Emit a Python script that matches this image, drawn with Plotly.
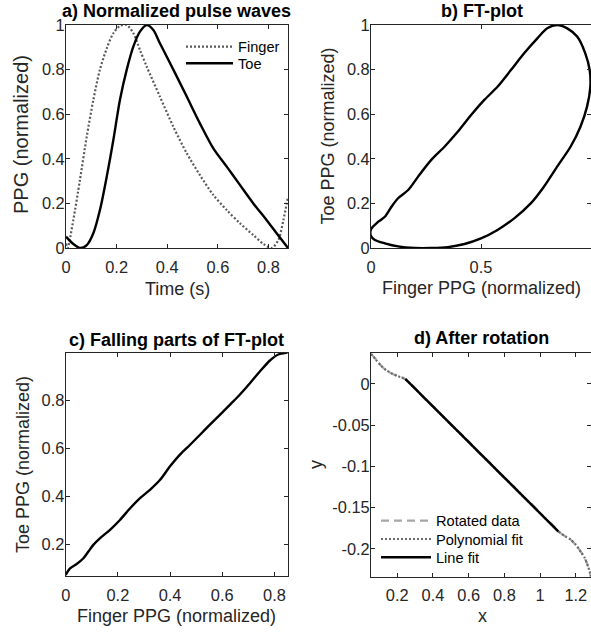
import plotly.graph_objects as go

W, H = 591, 633

# ---------------- data ----------------
# a) normalized pulse waves
finger_t = [0.0, 0.006, 0.029, 0.055, 0.082, 0.108, 0.134, 0.161, 0.187, 0.213, 0.240, 0.266,
            0.292, 0.319, 0.371, 0.424, 0.477, 0.529, 0.582, 0.635, 0.687, 0.740, 0.780,
            0.813, 0.839, 0.859, 0.877]
finger_y = [0.02, 0.0, 0.126, 0.305, 0.50, 0.664, 0.80, 0.895, 0.963, 0.996, 1.0, 0.963,
            0.888, 0.813, 0.679, 0.544, 0.425, 0.327, 0.238, 0.170, 0.111, 0.058, 0.018,
            0.0, 0.036, 0.126, 0.23]
toe_t = [0.0, 0.029, 0.055, 0.082, 0.108, 0.134, 0.161, 0.187, 0.213, 0.240, 0.266, 0.292,
         0.319, 0.345, 0.371, 0.424, 0.477, 0.529, 0.582, 0.635, 0.687, 0.740, 0.792,
         0.832, 0.877]
toe_y = [0.051, 0.018, 0.0, 0.013, 0.066, 0.17, 0.32, 0.484, 0.664, 0.80, 0.903, 0.97,
         1.0, 0.978, 0.918, 0.80, 0.679, 0.559, 0.447, 0.365, 0.283, 0.20, 0.126,
         0.066, 0.0]

# b) FT-plot (finger vs toe loop)
ft_finger = [0.0, 0.033, 0.063, 0.093, 0.123, 0.169, 0.214, 0.274, 0.334, 0.395, 0.455, 0.515,
             0.575, 0.636, 0.696, 0.756, 0.801, 0.846, 0.892, 0.937, 0.974, 0.994, 0.997,
             0.982, 0.952, 0.907, 0.846, 0.786, 0.726, 0.651, 0.575, 0.500, 0.425, 0.349,
             0.274, 0.199, 0.123, 0.063, 0.018, 0.0, 0.0]
ft_toe = [0.084, 0.118, 0.14, 0.185, 0.223, 0.26, 0.32, 0.395, 0.454, 0.522, 0.596, 0.664,
          0.723, 0.798, 0.873, 0.94, 0.985, 1.0, 0.985, 0.948, 0.873, 0.798, 0.723,
          0.634, 0.544, 0.454, 0.365, 0.275, 0.20, 0.133, 0.081, 0.043, 0.018, 0.004,
          0.0, 0.0, 0.007, 0.021, 0.036, 0.054, 0.084]

# c) falling parts of FT-plot
fall_finger = [0.0, 0.0166, 0.042, 0.068, 0.087, 0.106, 0.132, 0.170, 0.208, 0.247, 0.285,
               0.323, 0.362, 0.400, 0.438, 0.477, 0.515, 0.553, 0.592, 0.630, 0.668, 0.707,
               0.745, 0.783, 0.815, 0.851]
fall_toe = [0.071, 0.099, 0.117, 0.141, 0.169, 0.197, 0.225, 0.260, 0.301, 0.350, 0.392,
            0.427, 0.469, 0.525, 0.574, 0.615, 0.657, 0.699, 0.741, 0.783, 0.825, 0.873,
            0.922, 0.967, 0.992, 1.0]

# d) after rotation
rot_x = [0.053, 0.08, 0.11, 0.14, 0.17, 0.20, 0.24, 0.30, 0.36, 0.42, 0.48, 0.54, 0.60, 0.66,
         0.72, 0.78, 0.84, 0.90, 0.96, 1.02, 1.08, 1.11, 1.14, 1.17, 1.20, 1.23, 1.25, 1.265,
         1.28, 1.285]
rot_y = [0.0364, 0.030, 0.022, 0.016, 0.0125, 0.0100, 0.0065, -0.0050, -0.0195, -0.0310,
         -0.0452, -0.0570, -0.0695, -0.0840, -0.0955, -0.1098, -0.1213, -0.1355, -0.1470,
         -0.1612, -0.1730, -0.1800, -0.1845, -0.1885, -0.1950, -0.2040, -0.2110, -0.2190,
         -0.2290, -0.2340]
poly_x = [0.053, 0.08, 0.11, 0.14, 0.17, 0.20, 0.243, 0.30, 0.40, 0.50, 0.60, 0.70, 0.80,
          0.90, 1.00, 1.103, 1.14, 1.17, 1.20, 1.23, 1.25, 1.265, 1.28, 1.285]
poly_y = [0.0366, 0.0295, 0.022, 0.0165, 0.0128, 0.0098, 0.0062, -0.0058, -0.0273, -0.0489,
          -0.0705, -0.0920, -0.1135, -0.1350, -0.1565, -0.1788, -0.1845, -0.1885, -0.1950,
          -0.2040, -0.2110, -0.2190, -0.2290, -0.2336]
line_x = [0.245, 1.103]
line_y = [0.0063, -0.1790]

# tick values
a_x_ticks = [0, 0.2, 0.4, 0.6, 0.8]
a_y_ticks = [0, 0.2, 0.4, 0.6, 0.8, 1]
b_x_ticks = [0, 0.5, 1]
c_y_ticks = [0.2, 0.4, 0.6, 0.8]
d_x_ticks = [0.2, 0.4, 0.6, 0.8, 1, 1.2]
d_y_ticks = [0, -0.05, -0.1, -0.15, -0.2]

# ---------------- styling ----------------
FONT = "Liberation Sans, Arial, sans-serif"
AX = "#262626"
TICK_SIZE = 16.4
LABEL_SIZE = 18
LEG_SIZE = 14.6


def px(x):
    return x / W


def py(y):
    return 1 - y / H


fig = go.Figure()

# a)
fig.add_trace(go.Scatter(x=finger_t, y=finger_y, mode="lines", name="Finger",
                         line=dict(color="#5a5a5a", width=2.2, dash="2px,2px", shape="spline",
                                   smoothing=0.8),
                         xaxis="x", yaxis="y", legend="legend"))
fig.add_trace(go.Scatter(x=toe_t, y=toe_y, mode="lines", name="Toe",
                         line=dict(color="#000000", width=2.4, shape="spline", smoothing=0.8),
                         xaxis="x", yaxis="y", legend="legend2"))
# b)
fig.add_trace(go.Scatter(x=ft_finger, y=ft_toe, mode="lines", showlegend=False,
                         line=dict(color="#000000", width=2.4, shape="spline", smoothing=0.8),
                         xaxis="x2", yaxis="y2"))
# c)
fig.add_trace(go.Scatter(x=fall_finger, y=fall_toe, mode="lines", showlegend=False,
                         line=dict(color="#000000", width=2.4, shape="spline", smoothing=0.8),
                         xaxis="x3", yaxis="y3"))
# d)
fig.add_trace(go.Scatter(x=rot_x, y=rot_y, mode="lines", name="Rotated data",
                         line=dict(color="#a6a6a6", width=2.2, dash="8px,5px", shape="spline",
                                   smoothing=0.6),
                         xaxis="x4", yaxis="y4", legend="legend3"))
fig.add_trace(go.Scatter(x=poly_x, y=poly_y, mode="lines", name="Polynomial fit",
                         line=dict(color="#6a6a6a", width=2.2, dash="2px,2px", shape="spline",
                                   smoothing=0.6),
                         xaxis="x4", yaxis="y4", legend="legend4"))
fig.add_trace(go.Scatter(x=line_x, y=line_y, mode="lines", name="Line fit",
                         line=dict(color="#000000", width=2.4),
                         xaxis="x4", yaxis="y4", legend="legend5"))


def axstyle(**kw):
    d = dict(showline=True, linecolor=AX, linewidth=1, mirror="ticks", ticks="inside",
             ticklen=4, tickcolor=AX, tickwidth=1, showgrid=False, zeroline=False,
             automargin=False,
             tickfont=dict(family=FONT, size=TICK_SIZE, color=AX))
    d.update(kw)
    return d


def fmt(v):
    return "%g" % v


def leg(x, y, w):
    return dict(x=px(x), y=py(y), xanchor="left", yanchor="middle",
                bgcolor="rgba(0,0,0,0)", borderwidth=0,
                font=dict(family=FONT, size=LEG_SIZE, color="#000000"),
                tracegroupgap=0, itemwidth=w)


fig.update_layout(
    width=W, height=H, margin=dict(l=0, r=0, t=0, b=0, pad=0, autoexpand=False),
    autosize=False,
    paper_bgcolor="white", plot_bgcolor="white",
    font=dict(family=FONT, color=AX),
    xaxis=axstyle(domain=[px(66), px(288)], range=[0, 0.877], tickvals=a_x_ticks,
                  ticktext=[fmt(v) for v in a_x_ticks], anchor="y", ticklabelstandoff=4),
    yaxis=axstyle(domain=[py(248), py(25)], range=[0, 1], tickvals=a_y_ticks,
                  ticktext=[fmt(v) for v in a_y_ticks], anchor="x", ticklabelstandoff=-3),
    xaxis2=axstyle(domain=[px(371), 1.0], range=[0, 1], tickvals=b_x_ticks,
                   ticktext=[fmt(v) for v in b_x_ticks], anchor="y2", ticklabelstandoff=4),
    yaxis2=axstyle(domain=[py(248), py(25)], range=[0, 1], tickvals=a_y_ticks,
                   ticktext=[fmt(v) for v in a_y_ticks], anchor="x2", ticklabelstandoff=-3),
    xaxis3=axstyle(domain=[px(65.7), px(287.7)], range=[0, 0.851], tickvals=a_x_ticks,
                   ticktext=[fmt(v) for v in a_x_ticks], anchor="y3", ticklabelstandoff=4),
    yaxis3=axstyle(domain=[py(576), py(352.7)], range=[0.067, 0.9995], tickvals=c_y_ticks,
                   ticktext=[fmt(v) for v in c_y_ticks], anchor="x3", ticklabelstandoff=-3),
    xaxis4=axstyle(domain=[px(371), 1.0], range=[0.053, 1.285], tickvals=d_x_ticks,
                   ticktext=[fmt(v) for v in d_x_ticks], anchor="y4", ticklabelstandoff=4),
    yaxis4=axstyle(domain=[py(576.7), py(353.3)], range=[-0.2336, 0.0372], tickvals=d_y_ticks,
                   ticktext=[fmt(v) for v in d_y_ticks], anchor="x4", ticklabelstandoff=-3),
    legend=leg(181, 46.7, 47),
    legend2=leg(181, 63.3, 47),
    legend3=leg(376, 520.7, 50),
    legend4=leg(376, 539, 50),
    legend5=leg(376, 557.3, 50),
)

annots = [
    # titles
    dict(text="<b>a) Normalized pulse waves</b>", x=176, y=11, size=LABEL_SIZE, color="#000000"),
    dict(text="<b>b) FT-plot</b>", x=481.5, y=11, size=LABEL_SIZE, color="#000000"),
    dict(text="<b>c) Falling parts of FT-plot</b>", x=176, y=340, size=LABEL_SIZE, color="#000000"),
    dict(text="<b>d) After rotation</b>", x=481.5, y=338, size=LABEL_SIZE, color="#000000"),
    # x labels
    dict(text="Time (s)", x=177, y=289, size=LABEL_SIZE, color=AX),
    dict(text="Finger PPG (normalized)", x=481, y=288, size=LABEL_SIZE, color=AX),
    dict(text="Finger PPG (normalized)", x=176, y=616, size=LABEL_SIZE, color=AX),
    dict(text="x", x=482.5, y=616, size=LABEL_SIZE, color=AX),
    # y labels
    dict(text="PPG (normalized)", x=21, y=135, size=20, color=AX, angle=-90),
    dict(text="Toe PPG (normalized)", x=328, y=136.5, size=LABEL_SIZE, color=AX, angle=-90),
    dict(text="Toe PPG (normalized)", x=23, y=465, size=LABEL_SIZE, color=AX, angle=-90),
    dict(text="y", x=316, y=465, size=LABEL_SIZE, color=AX, angle=-90),
]
for a in annots:
    fig.add_annotation(text=a["text"], x=px(a["x"]), y=py(a["y"]), xref="paper", yref="paper",
                       xanchor="center", yanchor="middle", showarrow=False,
                       textangle=a.get("angle", 0),
                       font=dict(family=FONT, size=a["size"], color=a["color"]))

fig.write_html(
    "out.html",
    config={"displayModeBar": False, "responsive": False},
    post_script="document.documentElement.style.overflow='hidden';"
                "document.body.style.margin='0';document.body.style.overflow='hidden';",
)
